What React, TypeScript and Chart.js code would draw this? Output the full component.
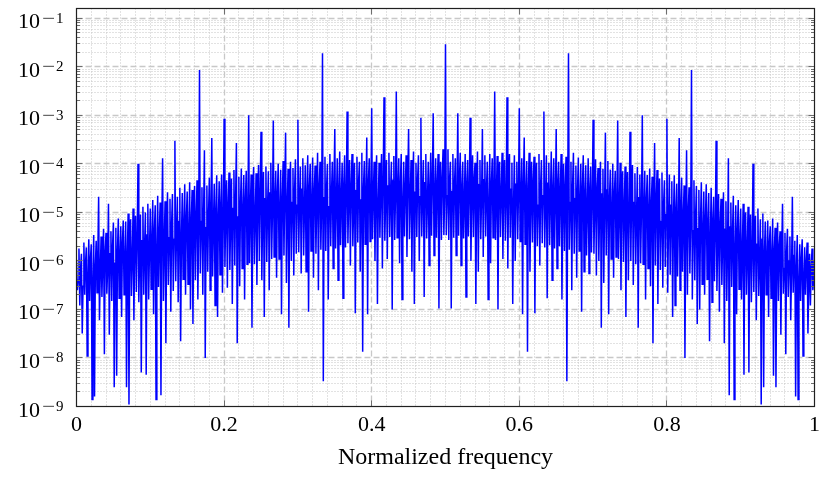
import React, { useEffect, useRef } from 'react';
import { Chart, registerables } from 'chart.js';

Chart.register(...registerables);

// Spectrum magnitudes sampled on 901 bins (0..900, frequency = bin / 900).
// Each group of three bins is (peak, trough, mid); spikes sit on peak bins.
const upper: number[] = [
  1.0e-6, 1.8e-6, 1.4e-6, 2.4e-6, 1.9e-6, 2.8e-6, 2.2e-6, 3.4e-6, 2.6e-6, 2.1e-5,
  3.2e-6, 4.6e-6, 3.8e-6, 1.5e-5, 4.1e-6, 6.2e-6, 4.8e-6, 7.5e-6, 5.2e-6, 6.8e-6,
  6.5e-6, 9.5e-6, 7.2e-6, 1.2e-5, 8.5e-6, 1.0e-4, 9.0e-6, 1.3e-5, 1.0e-5, 1.5e-5,
  1.2e-5, 1.8e-5, 1.4e-5, 2.2e-5, 1.6e-5, 1.3e-4, 1.7e-5, 2.6e-5, 1.9e-5, 2.4e-5,
  3.0e-4, 2.1e-5, 3.2e-5, 2.5e-5, 3.8e-5, 2.7e-5, 4.2e-5, 2.9e-5, 3.5e-5, 4.6e-5,
  8.6e-3, 3.3e-5, 1.9e-4, 3.6e-5, 5.2e-5, 3.4e-4, 3.9e-5, 5.8e-5, 4.4e-5, 6.0e-5,
  8.5e-4, 4.6e-5, 6.6e-5, 5.0e-5, 7.5e-5, 2.7e-4, 5.4e-5, 8.0e-5, 5.9e-5, 7.2e-5,
  1.0e-3, 6.0e-5, 8.6e-5, 6.4e-5, 9.5e-5, 4.6e-4, 6.8e-5, 8.8e-5, 7.0e-5, 1.05e-4,
  7.8e-4, 7.2e-5, 1.0e-4, 7.6e-5, 1.15e-4, 4.4e-4, 7.9e-5, 1.1e-4, 8.2e-5, 1.25e-4,
  8.1e-4, 8.8e-5, 1.3e-4, 9.4e-5, 1.5e-4, 1.0e-4, 1.35e-4, 9.2e-5, 1.7e-4, 1.1e-4,
  1.9e-2, 1.4e-4, 1.0e-4, 1.6e-4, 1.1e-4, 5.2e-4, 1.3e-4, 1.8e-4, 1.05e-4, 1.5e-4,
  1.2e-3, 1.2e-4, 1.6e-4, 1.05e-4, 1.4e-4, 1.1e-4, 1.7e-4, 1.15e-4, 3.5e-4, 1.3e-4,
  1.4e-3, 1.1e-4, 1.5e-4, 1.05e-4, 1.6e-4, 2.35e-3, 1.2e-4, 1.7e-4, 1.1e-4, 1.45e-4,
  3.1e-3, 1.3e-4, 1.6e-4, 1.1e-4, 1.5e-4, 5.2e-4, 1.2e-4, 1.8e-4, 1.05e-4, 1.5e-4,
  8.9e-4, 1.2e-4, 1.6e-4, 1.1e-4, 1.7e-4, 1.1e-3, 1.3e-4, 1.6e-4, 1.1e-4, 2.0e-4,
  2.9e-2,
  2.0e-4, 1.1e-4, 1.6e-4, 1.3e-4, 1.1e-3, 1.7e-4, 1.1e-4, 1.6e-4, 1.2e-4, 8.9e-4,
  1.5e-4, 1.05e-4, 1.8e-4, 1.2e-4, 5.2e-4, 1.5e-4, 1.1e-4, 1.6e-4, 1.3e-4, 3.1e-3,
  1.45e-4, 1.1e-4, 1.7e-4, 1.2e-4, 2.35e-3, 1.6e-4, 1.05e-4, 1.5e-4, 1.1e-4, 1.4e-3,
  1.3e-4, 3.5e-4, 1.15e-4, 1.7e-4, 1.1e-4, 1.4e-4, 1.05e-4, 1.6e-4, 1.2e-4, 1.2e-3,
  1.5e-4, 1.05e-4, 1.8e-4, 1.3e-4, 5.2e-4, 1.1e-4, 1.6e-4, 1.0e-4, 1.4e-4, 1.9e-2,
  1.1e-4, 1.7e-4, 9.2e-5, 1.35e-4, 1.0e-4, 1.5e-4, 9.4e-5, 1.3e-4, 8.8e-5, 8.1e-4,
  1.25e-4, 8.2e-5, 1.1e-4, 7.9e-5, 4.4e-4, 1.15e-4, 7.6e-5, 1.0e-4, 7.2e-5, 7.8e-4,
  1.05e-4, 7.0e-5, 8.8e-5, 6.8e-5, 4.6e-4, 9.5e-5, 6.4e-5, 8.6e-5, 6.0e-5, 1.0e-3,
  7.2e-5, 5.9e-5, 8.0e-5, 5.4e-5, 2.7e-4, 7.5e-5, 5.0e-5, 6.6e-5, 4.6e-5, 8.5e-4,
  6.0e-5, 4.4e-5, 5.8e-5, 3.9e-5, 3.4e-4, 5.2e-5, 3.6e-5, 1.9e-4, 3.3e-5, 8.6e-3,
  4.6e-5, 3.5e-5, 2.9e-5, 4.2e-5, 2.7e-5, 3.8e-5, 2.5e-5, 3.2e-5, 2.1e-5, 3.0e-4,
  2.4e-5, 1.9e-5, 2.6e-5, 1.7e-5, 1.3e-4, 1.6e-5, 2.2e-5, 1.4e-5, 1.8e-5, 1.2e-5,
  1.5e-5, 1.0e-5, 1.3e-5, 9.0e-6, 1.0e-4, 8.5e-6, 1.2e-5, 7.2e-6, 9.5e-6, 6.5e-6,
  6.8e-6, 5.2e-6, 7.5e-6, 4.8e-6, 6.2e-6, 4.1e-6, 1.5e-5, 3.8e-6, 4.6e-6, 3.2e-6,
  2.1e-5, 2.6e-6, 3.4e-6, 2.2e-6, 2.8e-6, 1.9e-6, 2.4e-6, 1.4e-6, 1.8e-6, 1.0e-6,
];

const lower: number[] = [
  2.5e-7, 1.2e-7, 3.2e-8, 2.0e-7, 1.1e-8, 1.5e-7, 1.4e-9, 1.6e-9, 2.2e-7, 6e-8,
  1.8e-7, 1.2e-8, 2.1e-7, 3e-8, 1.5e-7, 2.5e-9, 4.3e-9, 1.7e-7, 7e-8, 2.0e-7,
  2.5e-9, 1.1e-9, 1.9e-7, 6e-8, 2.3e-7, 1.4e-7, 5e-9, 2.0e-7, 4.5e-9, 1.6e-7,
  2.6e-7, 8e-8, 1.4e-9, 2.9e-7, 1.7e-9, 1.5e-7, 2e-8, 3.2e-7, 9e-8, 2.4e-7,
  3.8e-7, 1.4e-7, 2.2e-8, 4.2e-7, 2.0e-7, 3.3e-7, 1.0e-7, 5e-8, 4.0e-7, 1.6e-7,
  5.5e-7, 2.0e-7, 1.0e-8, 6e-7, 2.5e-7, 4.8e-7, 1.2e-7, 7e-8, 5.2e-7, 2.2e-7,
  7.5e-7, 2.8e-7, 6.5e-7, 1.3e-7, 8e-7, 2e-8, 3.0e-7, 7e-7, 1.6e-7, 8.5e-7,
  9e-7, 4.2e-8, 8.5e-7, 3.2e-7, 1.0e-6, 4e-7, 7e-8, 9.5e-7, 2.5e-7, 1.1e-6,
  1.2e-6, 4.5e-7, 1.1e-6, 8e-8, 1.3e-6, 3.5e-7, 4.2e-8, 1.0e-6, 5e-7, 1.4e-6,
  1.5e-6, 5.5e-7, 1.3e-6, 6e-7, 9e-8, 1.6e-6, 4.5e-7, 1.4e-6, 2.5e-7, 1.7e-6,
  3.3e-9, 1.6e-6, 1.6e-7, 2.0e-6, 7e-7, 1.8e-6, 4e-7, 2.1e-6, 1.7e-7, 1.9e-6,
  2.3e-6, 8e-7, 2.0e-6, 8.3e-8, 2.4e-6, 6e-7, 1.35e-8, 2.2e-6, 8e-8, 2.5e-6,
  2.8e-6, 1.0e-6, 1.3e-7, 3.0e-6, 7e-7, 2.6e-6, 1.1e-6, 3.1e-6, 1.0e-7, 2.7e-6,
  3.0e-6, 9e-7, 1.6e-7, 3.2e-6, 1.2e-6, 2.8e-6, 6e-7, 1.3e-7, 3.1e-6, 1.0e-6,
  3.2e-6, 1.8e-7, 2.9e-6, 8e-7, 3.3e-6, 1.3e-6, 3.0e-6, 1.05e-7, 2.7e-6, 3.4e-6,
  3.4e-6, 2.7e-6, 1.05e-7, 3.0e-6, 1.3e-6, 3.3e-6, 8e-7, 2.9e-6, 1.8e-7, 3.2e-6,
  1.0e-6, 3.1e-6, 1.3e-7, 6e-7, 2.8e-6, 1.2e-6, 3.2e-6, 1.6e-7, 9e-7, 3.0e-6,
  2.7e-6, 1.0e-7, 3.1e-6, 1.1e-6, 2.6e-6, 7e-7, 3.0e-6, 1.3e-7, 1.0e-6, 2.8e-6,
  2.5e-6, 8e-8, 2.2e-6, 1.35e-8, 6e-7, 2.4e-6, 8.3e-8, 2.0e-6, 8e-7, 2.3e-6,
  1.9e-6, 1.7e-7, 2.1e-6, 4e-7, 1.8e-6, 7e-7, 2.0e-6, 1.6e-7, 1.6e-6, 3.3e-9,
  1.7e-6, 2.5e-7, 1.4e-6, 4.5e-7, 1.6e-6, 9e-8, 6e-7, 1.3e-6, 5.5e-7, 1.5e-6,
  1.4e-6, 5e-7, 1.0e-6, 4.2e-8, 3.5e-7, 1.3e-6, 8e-8, 1.1e-6, 4.5e-7, 1.2e-6,
  1.1e-6, 2.5e-7, 9.5e-7, 7e-8, 4e-7, 1.0e-6, 3.2e-7, 8.5e-7, 4.2e-8, 9e-7,
  8.5e-7, 1.6e-7, 7e-7, 3.0e-7, 2e-8, 8e-7, 1.3e-7, 6.5e-7, 2.8e-7, 7.5e-7,
  2.2e-7, 5.2e-7, 7e-8, 1.2e-7, 4.8e-7, 2.5e-7, 6e-7, 1.0e-8, 2.0e-7, 5.5e-7,
  1.6e-7, 4.0e-7, 5e-8, 1.0e-7, 3.3e-7, 2.0e-7, 4.2e-7, 2.2e-8, 1.4e-7, 3.8e-7,
  2.4e-7, 9e-8, 3.2e-7, 2e-8, 1.5e-7, 1.7e-9, 2.9e-7, 1.4e-9, 8e-8, 2.6e-7,
  1.6e-7, 4.5e-9, 2.0e-7, 5e-9, 1.4e-7, 2.3e-7, 6e-8, 1.9e-7, 1.1e-9, 2.5e-9,
  2.0e-7, 7e-8, 1.7e-7, 4.3e-9, 2.5e-9, 1.5e-7, 3e-8, 2.1e-7, 1.2e-8, 1.8e-7,
  6e-8, 2.2e-7, 1.6e-9, 1.4e-9, 1.5e-7, 1.1e-8, 2.0e-7, 3.2e-8, 1.2e-7, 2.5e-7,
];

const mid: number[] = [
  4e-7, 7e-7, 3e-7, 9e-7, 5e-7, 1.1e-6, 4e-7, 8e-7, 1.3e-6, 6e-7,
  1.0e-6, 1.6e-6, 7e-7, 1.4e-6, 2.0e-6, 9e-7, 1.7e-6, 1.2e-6, 2.4e-6, 1.0e-6,
  1.5e-6, 2.8e-6, 1.1e-6, 2.2e-6, 3.0e-6, 1.4e-6, 2.6e-6, 1.8e-6, 3.4e-6, 1.6e-6,
  2.5e-6, 4.2e-6, 1.9e-6, 3.6e-6, 5.0e-6, 2.3e-6, 4.5e-6, 3.0e-6, 5.8e-6, 2.8e-6,
  4.0e-6, 6.5e-6, 3.0e-6, 5.5e-6, 7.5e-6, 3.6e-6, 6.8e-6, 4.6e-6, 8.5e-6, 4.2e-6,
  6.5e-6, 1.0e-5, 4.8e-6, 8.5e-6, 1.2e-5, 5.5e-6, 1.1e-5, 7.5e-6, 1.4e-5, 6.5e-6,
  9.0e-6, 1.5e-5, 6.5e-6, 1.2e-5, 1.7e-5, 8.0e-6, 1.5e-5, 1.0e-5, 1.9e-5, 9.0e-6,
  1.2e-5, 2.0e-5, 8.5e-6, 1.6e-5, 2.3e-5, 1.0e-5, 1.9e-5, 1.3e-5, 2.5e-5, 1.1e-5,
  1.5e-5, 2.5e-5, 1.0e-5, 2.0e-5, 2.9e-5, 1.3e-5, 2.4e-5, 1.6e-5, 3.1e-5, 1.4e-5,
  1.8e-5, 3.0e-5, 1.2e-5, 2.4e-5, 3.4e-5, 1.5e-5, 2.8e-5, 1.9e-5, 3.6e-5, 1.6e-5,
  2.0e-5, 3.3e-5, 1.3e-5, 2.6e-5, 3.8e-5, 1.7e-5, 3.1e-5, 2.1e-5, 4.0e-5, 1.8e-5,
  2.2e-5, 3.6e-5, 1.4e-5, 2.8e-5, 4.2e-5, 1.8e-5, 3.3e-5, 2.3e-5, 4.4e-5, 1.9e-5,
  2.4e-5, 3.8e-5, 1.5e-5, 3.0e-5, 4.5e-5, 1.9e-5, 3.5e-5, 2.5e-5, 4.6e-5, 2.0e-5,
  2.5e-5, 4.0e-5, 1.6e-5, 3.2e-5, 4.7e-5, 2.0e-5, 3.7e-5, 2.6e-5, 4.8e-5, 2.1e-5,
  2.6e-5, 4.1e-5, 1.7e-5, 3.3e-5, 4.8e-5, 2.1e-5, 3.8e-5, 2.7e-5, 5.0e-5, 2.2e-5,
  2.2e-5, 5.0e-5, 2.7e-5, 3.8e-5, 2.1e-5, 4.8e-5, 3.3e-5, 1.7e-5, 4.1e-5, 2.6e-5,
  2.1e-5, 4.8e-5, 2.6e-5, 3.7e-5, 2.0e-5, 4.7e-5, 3.2e-5, 1.6e-5, 4.0e-5, 2.5e-5,
  2.0e-5, 4.6e-5, 2.5e-5, 3.5e-5, 1.9e-5, 4.5e-5, 3.0e-5, 1.5e-5, 3.8e-5, 2.4e-5,
  1.9e-5, 4.4e-5, 2.3e-5, 3.3e-5, 1.8e-5, 4.2e-5, 2.8e-5, 1.4e-5, 3.6e-5, 2.2e-5,
  1.8e-5, 4.0e-5, 2.1e-5, 3.1e-5, 1.7e-5, 3.8e-5, 2.6e-5, 1.3e-5, 3.3e-5, 2.0e-5,
  1.6e-5, 3.6e-5, 1.9e-5, 2.8e-5, 1.5e-5, 3.4e-5, 2.4e-5, 1.2e-5, 3.0e-5, 1.8e-5,
  1.4e-5, 3.1e-5, 1.6e-5, 2.4e-5, 1.3e-5, 2.9e-5, 2.0e-5, 1.0e-5, 2.5e-5, 1.5e-5,
  1.1e-5, 2.5e-5, 1.3e-5, 1.9e-5, 1.0e-5, 2.3e-5, 1.6e-5, 8.5e-6, 2.0e-5, 1.2e-5,
  9.0e-6, 1.9e-5, 1.0e-5, 1.5e-5, 8.0e-6, 1.7e-5, 1.2e-5, 6.5e-6, 1.5e-5, 9.0e-6,
  6.5e-6, 1.4e-5, 7.5e-6, 1.1e-5, 5.5e-6, 1.2e-5, 8.5e-6, 4.8e-6, 1.0e-5, 6.5e-6,
  4.2e-6, 8.5e-6, 4.6e-6, 6.8e-6, 3.6e-6, 7.5e-6, 5.5e-6, 3.0e-6, 6.5e-6, 4.0e-6,
  2.8e-6, 5.8e-6, 3.0e-6, 4.5e-6, 2.3e-6, 5.0e-6, 3.6e-6, 1.9e-6, 4.2e-6, 2.5e-6,
  1.6e-6, 3.4e-6, 1.8e-6, 2.6e-6, 1.4e-6, 3.0e-6, 2.2e-6, 1.1e-6, 2.8e-6, 1.5e-6,
  1.0e-6, 2.4e-6, 1.2e-6, 1.7e-6, 9e-7, 2.0e-6, 1.4e-6, 7e-7, 1.6e-6, 1.0e-6,
  6e-7, 1.3e-6, 8e-7, 4e-7, 1.1e-6, 5e-7, 9e-7, 3e-7, 7e-7, 4e-7,
];

const xTickValues: number[] = [0, 0.2, 0.4, 0.6, 0.8, 1];
const xTickLabels: string[] = ['0', '0.2', '0.4', '0.6', '0.8', '1'];
const yTickExponents: number[] = [-9, -8, -7, -6, -5, -4, -3, -2, -1];
const xAxisTitle = 'Normalized frequency';

const SERIF = "'Liberation Serif', 'Times New Roman', serif";

function buildPoints() {
  const binCount = upper.length + lower.length + mid.length - 1;
  const pts: { x: number; y: number }[] = [];
  let bin = 0;
  for (let k = 0; k < upper.length; k++) {
    pts.push({ x: bin / binCount, y: upper[k] });
    bin++;
    if (k < lower.length) {
      pts.push({ x: bin / binCount, y: lower[k] });
      bin++;
      pts.push({ x: bin / binCount, y: mid[k] });
      bin++;
    }
  }
  return pts;
}

const half = (v: number) => Math.round(v - 0.5) + 0.5;

const pgfPlugin = {
  id: 'pgfDecor',
  beforeDatasetsDraw(chart: any) {
    const { ctx, chartArea: a, scales } = chart;
    const xs = scales.x;
    const ys = scales.y;
    ctx.save();
    ctx.beginPath();
    ctx.rect(a.left, a.top, a.right - a.left, a.bottom - a.top);
    ctx.clip();
    ctx.strokeStyle = '#c4c4c4';
    ctx.lineWidth = 1;
    ctx.setLineDash([1, 2]);
    ctx.beginPath();
    for (let i = 1; i < 50; i++) {
      if (i % 10 === 0) continue;
      const px = half(xs.getPixelForValue(i / 50));
      ctx.moveTo(px, a.top);
      ctx.lineTo(px, a.bottom);
    }
    for (let e = -9; e <= -1; e++) {
      for (let m = 2; m <= 9; m++) {
        const v = m * Math.pow(10, e);
        const py = ys.getPixelForValue(v);
        if (py < a.top || py > a.bottom) continue;
        const p = half(py);
        ctx.moveTo(a.left, p);
        ctx.lineTo(a.right, p);
      }
    }
    ctx.stroke();
    ctx.strokeStyle = '#c8c8c8';
    ctx.lineWidth = 1.3;
    ctx.setLineDash([6, 3]);
    ctx.beginPath();
    for (const v of xTickValues) {
      if (v <= 0 || v >= 1) continue;
      const px = half(xs.getPixelForValue(v));
      ctx.moveTo(px, a.top);
      ctx.lineTo(px, a.bottom);
    }
    for (const e of yTickExponents) {
      const p = half(ys.getPixelForValue(Math.pow(10, e)));
      if (p >= a.bottom - 1) continue;
      ctx.moveTo(a.left, p);
      ctx.lineTo(a.right, p);
    }
    ctx.stroke();
    ctx.restore();
  },
  afterDatasetsDraw(chart: any) {
    const { ctx, chartArea: a, scales } = chart;
    const xs = scales.x;
    const ys = scales.y;
    ctx.save();
    ctx.setLineDash([]);
    ctx.strokeStyle = '#6e6e6e';
    ctx.lineWidth = 1;
    ctx.beginPath();
    for (let e = -9; e <= -1; e++) {
      for (let m = 1; m <= 9; m++) {
        const py = ys.getPixelForValue(m * Math.pow(10, e));
        if (py < a.top || py > a.bottom) continue;
        const p = half(py);
        const len = m === 1 ? 6 : 3.5;
        ctx.moveTo(a.left, p);
        ctx.lineTo(a.left + len, p);
        ctx.moveTo(a.right, p);
        ctx.lineTo(a.right - len, p);
      }
    }
    for (const v of xTickValues) {
      const px = half(xs.getPixelForValue(v));
      ctx.moveTo(px, a.bottom);
      ctx.lineTo(px, a.bottom - 6);
      ctx.moveTo(px, a.top);
      ctx.lineTo(px, a.top + 6);
    }
    ctx.stroke();
    ctx.strokeStyle = '#202020';
    ctx.lineWidth = 1.2;
    ctx.strokeRect(a.left, a.top, a.right - a.left, a.bottom - a.top);
    ctx.fillStyle = '#000';
    ctx.textBaseline = 'alphabetic';
    for (const e of yTickExponents) {
      const t = ys.getPixelForValue(Math.pow(10, e));
      ctx.font = `22px ${SERIF}`;
      ctx.textAlign = 'left';
      ctx.fillText('10', 18, t + 10);
      ctx.font = `15px ${SERIF}`;
      ctx.save();
      ctx.translate(48.3, t + 4.5);
      ctx.scale(1.55, 1);
      ctx.textAlign = 'center';
      ctx.fillText('\u2212', 0, 0);
      ctx.restore();
      ctx.textAlign = 'left';
      ctx.fillText(String(Math.abs(e)), 56, t + 4.5);
    }
    ctx.restore();
  },
};

export default function App() {
  const canvasRef = useRef<HTMLCanvasElement | null>(null);

  useEffect(() => {
    if (!canvasRef.current) return;
    const chart = new Chart(canvasRef.current, {
      type: 'line',
      data: {
        datasets: [
          {
            data: buildPoints(),
            borderColor: 'rgb(0,0,255)',
            borderWidth: 1.5,
            pointRadius: 0,
            tension: 0,
            fill: false,
          },
        ],
      },
      options: {
        animation: false,
        responsive: false,
        maintainAspectRatio: false,
        parsing: false as any,
        normalized: true,
        layout: { padding: { left: 0, right: 14.5, top: 8.5, bottom: 0 } },
        plugins: {
          legend: { display: false },
          tooltip: { enabled: false },
          title: { display: false },
        },
        scales: {
          x: {
            type: 'linear',
            min: 0,
            max: 1,
            grid: { display: false },
            border: { display: false },
            afterBuildTicks: (scale: any) => {
              scale.ticks = xTickValues.map((v) => ({ value: v }));
            },
            afterFit: (scale: any) => {
              scale.height = 72.5;
            },
            ticks: {
              autoSkip: false,
              maxRotation: 0,
              padding: 0,
              color: '#000',
              font: { family: SERIF, size: 22, lineHeight: 1 },
              callback: (_v: any, i: number) => xTickLabels[i],
            },
            title: {
              display: true,
              text: xAxisTitle,
              color: '#000',
              font: { family: SERIF, size: 24 },
              padding: { top: 0, bottom: 7 },
            },
          },
          y: {
            type: 'logarithmic',
            min: 1e-9,
            max: 0.159,
            grid: { display: false },
            border: { display: false },
            ticks: { display: false },
            afterFit: (scale: any) => {
              scale.width = 76.5;
            },
          },
        },
      },
      plugins: [pgfPlugin],
    } as any);
    return () => chart.destroy();
  }, []);

  return (
    <div style={{ position: 'fixed', left: 0, top: 0, width: 829, height: 479, background: '#fff' }}>
      <canvas ref={canvasRef} width={829} height={479} style={{ display: 'block' }} />
    </div>
  );
}
